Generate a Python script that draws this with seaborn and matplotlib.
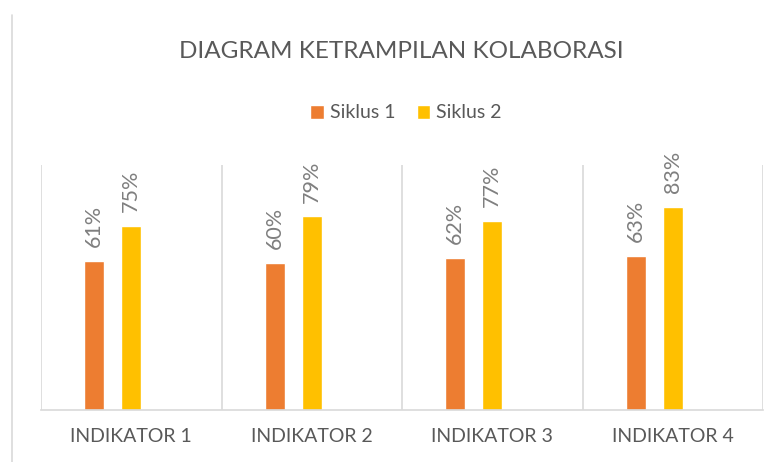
import numpy as np
import pandas as pd
import seaborn as sns
import matplotlib.pyplot as plt
from matplotlib.patches import Patch
from matplotlib.lines import Line2D

# data
categories = ["INDIKATOR 1", "INDIKATOR 2", "INDIKATOR 3", "INDIKATOR 4"]
siklus_1 = [0.61, 0.60, 0.62, 0.63]
siklus_2 = [0.75, 0.79, 0.77, 0.83]
series_names = ["Siklus 1", "Siklus 2"]
title = "DIAGRAM KETRAMPILAN KOLABORASI"

# long format; third (empty) series slot keeps the Excel-style offset
df = pd.DataFrame({
    "Indikator": categories * 2,
    "Nilai": siklus_1 + siklus_2,
    "Siklus": [series_names[0]] * 4 + [series_names[1]] * 4,
})
hue_order = series_names + ["Siklus 3"]
colors = ["#ED7D31", "#FFC000", "#A5A5A5"]

sns.set_theme(style="white")
plt.rcParams["font.family"] = ["Lato", "DejaVu Sans"]

fig = plt.figure(figsize=(7.8, 4.62), dpi=100)
ax = fig.add_axes([41 / 780, 52 / 462, 722 / 780, 245 / 462])

sns.barplot(data=df, x="Indikator", y="Nilai", hue="Siklus", hue_order=hue_order,
            order=categories, palette=colors, saturation=1, width=0.615, gap=0.46,
            errorbar=None, legend=False, ax=ax)

for c in ax.containers:
    ax.bar_label(c, fmt=lambda v: f"{v:.0%}", rotation=90, padding=10,
                 color="#7f7f7f", fontsize=15.5)

ax.set_ylim(0, 1)
ax.set_xlim(-0.5, len(categories) - 0.5)
ax.set_yticks([])
ax.set_xlabel("")
ax.set_ylabel("")
ax.set_xticks(np.arange(-0.5, len(categories)), minor=True)
ax.grid(which="minor", axis="x", color="#d9d9d9", linewidth=1.2)
ax.tick_params(axis="x", which="both", length=0, pad=13, labelsize=14,
               labelcolor="#595959")
for s in ["top", "left", "right"]:
    ax.spines[s].set_visible(False)
ax.spines["bottom"].set_color("#d9d9d9")
ax.spines["bottom"].set_linewidth(1.2)

fig.text(401 / 780, 1 - 52 / 462, title, ha="center", va="center",
         fontsize=17.5, color="#595959")

handles = [Patch(facecolor=colors[i], label=series_names[i]) for i in range(2)]
fig.legend(handles=handles, loc="center", bbox_to_anchor=(406 / 780, 1 - 113 / 462),
           ncol=2, frameon=False, fontsize=14, handlelength=0.7, handleheight=0.7,
           handletextpad=0.3, columnspacing=1.1, labelcolor="#595959")

# chart frame edge on the left
fig.add_artist(Line2D([12 / 780, 12 / 780], [0, 1 - 15 / 462],
                      transform=fig.transFigure, color="#d9d9d9", linewidth=1.2))

fig.savefig("out.png", dpi=100)
